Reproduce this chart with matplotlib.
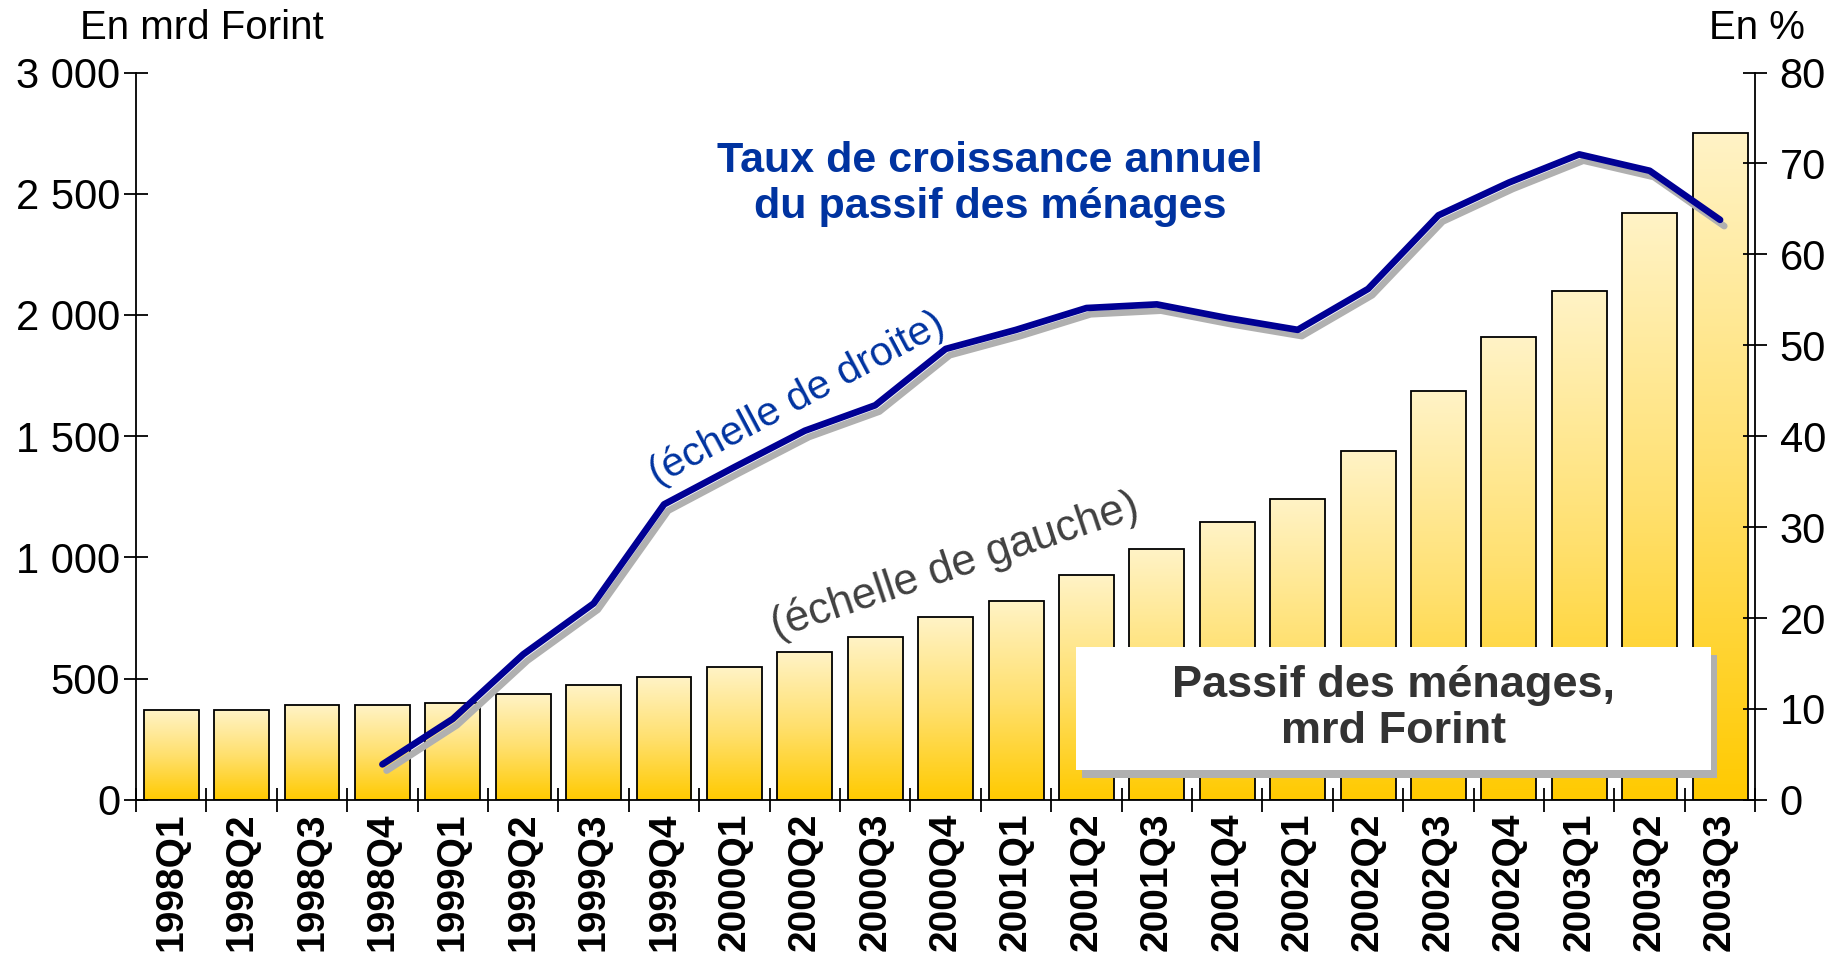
import numpy as np
import matplotlib
matplotlib.use("Agg")
import matplotlib.pyplot as plt
import matplotlib.patheffects as pe
from matplotlib.colors import LinearSegmentedColormap
from matplotlib.patches import Rectangle

plt.rcParams['font.family'] = ['Liberation Sans', 'DejaVu Sans']

# quarters on the x axis
quarters = ['1998Q1', '1998Q2', '1998Q3', '1998Q4',
            '1999Q1', '1999Q2', '1999Q3', '1999Q4',
            '2000Q1', '2000Q2', '2000Q3', '2000Q4',
            '2001Q1', '2001Q2', '2001Q3', '2001Q4',
            '2002Q1', '2002Q2', '2002Q3', '2002Q4',
            '2003Q1', '2003Q2', '2003Q3']

# household liabilities, bn Forint (left scale)
passif = [370, 370, 390, 390, 400, 435, 473, 507, 546, 609, 671, 754,
          821, 928, 1034, 1145, 1242, 1440, 1686, 1908, 2101, 2420, 2749]

# annual growth rate, % (right scale), starts in 1998Q4
croissance = [np.nan, np.nan, np.nan, 3.9, 8.9, 16.0, 21.6, 32.5, 36.6, 40.6,
              43.4, 49.6, 51.7, 54.1, 54.5, 53.0, 51.7, 56.2, 64.3, 67.9,
              71.0, 69.2, 63.8]

left_ticks = [0, 500, 1000, 1500, 2000, 2500, 3000]
right_ticks = [0, 10, 20, 30, 40, 50, 60, 70, 80]

fig = plt.figure(figsize=(18.38, 9.55), dpi=100)
ax = fig.add_axes([0.074, 0.1625, 0.881, 0.7615])
ax2 = ax.twinx()

x = np.arange(len(quarters))

# bars with a vertical gradient, each bar gets its own
bars = ax.bar(x, passif, width=0.78, facecolor='none', edgecolor='black',
              linewidth=1.3, zorder=3)
cmap = LinearSegmentedColormap.from_list('gold', ['#FFCA00', '#FFE06E', '#FFF3C6'])
grad = np.linspace(0, 1, 256).reshape(-1, 1)
for b in bars:
    x0 = b.get_x()
    ax.imshow(grad, cmap=cmap, origin='lower', aspect='auto', zorder=2,
              extent=[x0, x0 + b.get_width(), 0, b.get_height()])

ax.set_xlim(-0.5, len(quarters) - 0.5)
ax.set_ylim(0, 3000)
ax2.set_ylim(0, 80)

# growth line with grey drop shadow
ax2.plot(x, croissance, color='#000094', lw=4.8, solid_capstyle='round',
         solid_joinstyle='round', zorder=4,
         path_effects=[pe.SimpleLineShadow(offset=(3, -4.5), shadow_color='#b0b0b0', alpha=1),
                       pe.Normal()])

# axes styling
for a in (ax, ax2):
    a.spines['top'].set_visible(False)
    for s in a.spines.values():
        s.set_linewidth(1.3)
ax.spines['right'].set_visible(False)
ax2.spines['left'].set_visible(False)
ax2.spines['bottom'].set_visible(False)

ax.set_yticks(left_ticks)
ax.set_yticklabels([f"{v:,}".replace(',', ' ') for v in left_ticks])
ax2.set_yticks(right_ticks)
ax.tick_params(axis='y', direction='inout', length=17, width=1.3, labelsize=30, pad=3)
ax2.tick_params(axis='y', direction='inout', length=17, width=1.3, labelsize=30, pad=9)

ax.set_xticks(x)
ax.set_xticklabels(quarters, rotation=90, fontweight='bold', fontsize=28)
ax.tick_params(axis='x', which='major', length=0, pad=9)
ax.set_xticks(np.arange(-0.5, len(quarters)), minor=True)
ax.tick_params(axis='x', which='minor', direction='inout', length=17, width=1.3)

# texts
fig.text(0.0435, 0.9707, 'En mrd Forint', fontsize=29, ha='left', va='center')
fig.text(0.982, 0.9707, 'En %', fontsize=29, ha='right', va='center')
fig.text(0.5386, 0.807, 'Taux de croissance annuel\ndu passif des ménages',
         fontsize=31, fontweight='bold', color='#0033A0', ha='center', va='center',
         linespacing=1.2)
fig.text(0.4336, 0.582, '(échelle de droite)', fontsize=29.5, color='#0033A0',
         rotation=28, ha='center', va='center')
fig.text(0.5196, 0.4073, '(échelle de gauche)', fontsize=31.5, color='#404040',
         rotation=18.5, ha='center', va='center')

# label box with shadow
bx, by, bw, bh = 0.5854, 0.1937, 0.3455, 0.1288
fig.add_artist(Rectangle((bx + 0.0033, by - 0.0084), bw, bh, transform=fig.transFigure,
                         facecolor='#b0b0b0', edgecolor='none', zorder=10))
fig.add_artist(Rectangle((bx, by), bw, bh, transform=fig.transFigure,
                         facecolor='white', edgecolor='none', zorder=11))
fig.text(bx + bw / 2, by + bh / 2, 'Passif des ménages,\nmrd Forint', fontsize=32.5,
         fontweight='bold', color='#333333', ha='center', va='center',
         linespacing=1.15, zorder=12)

fig.savefig('out.png', dpi=100)
